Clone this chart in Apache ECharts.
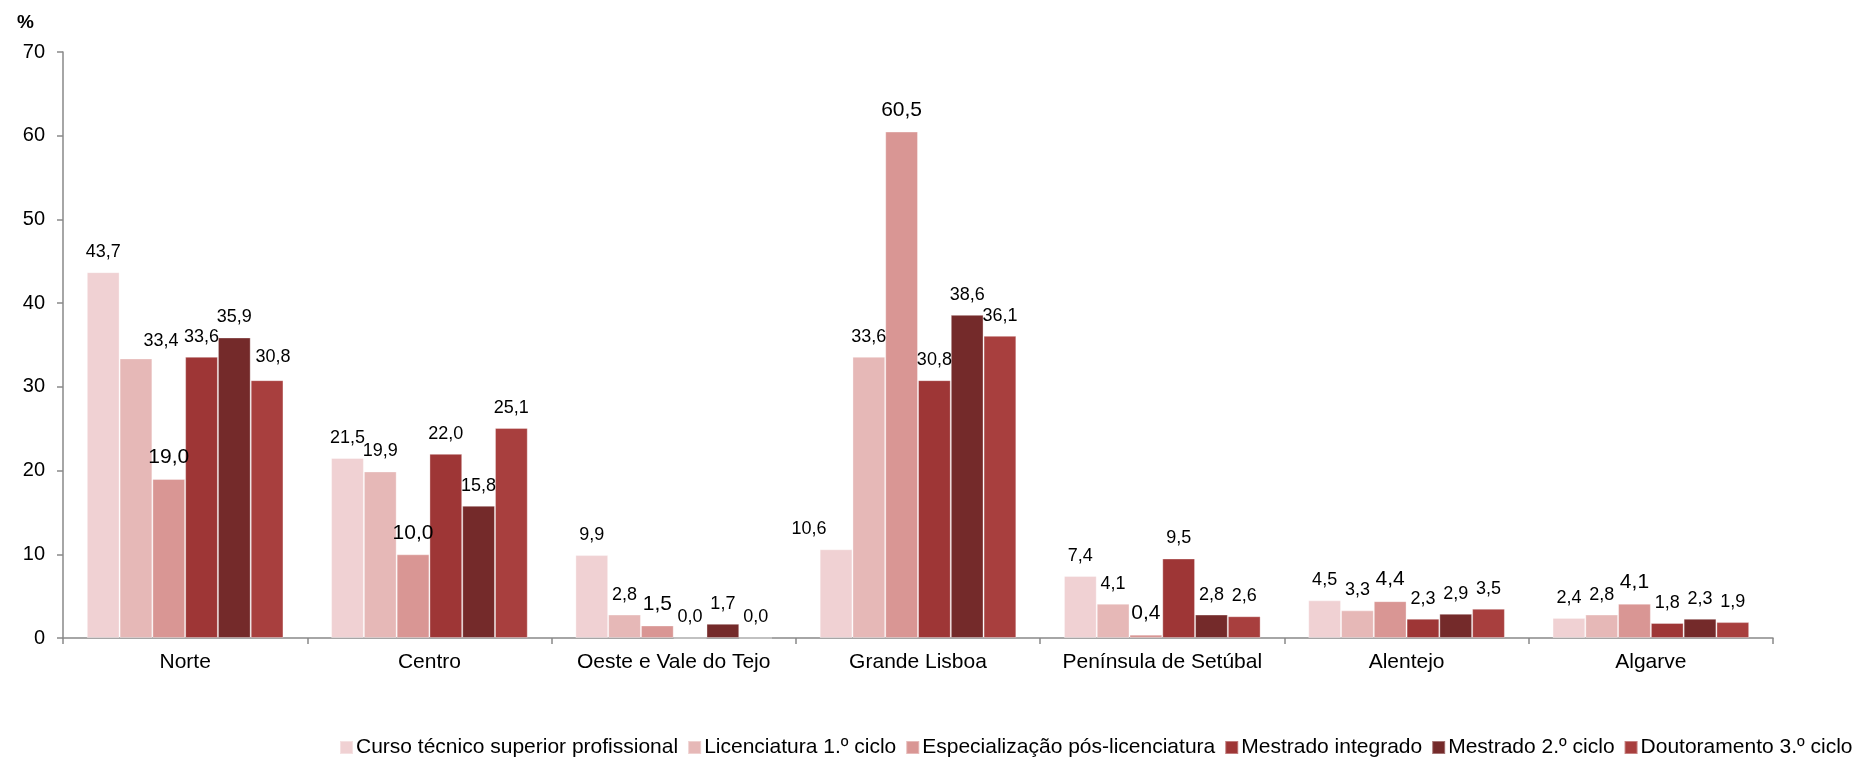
<!DOCTYPE html>
<html>
<head>
<meta charset="utf-8">
<script src="https://cdn.jsdelivr.net/npm/echarts@6/dist/echarts.min.js"></script>
<style>
html,body{margin:0;padding:0;background:#fff;}
#chart{width:1865px;height:757px;}
</style>
</head>
<body>
<div id="chart"></div>
<script>
const categories = ['Norte', 'Centro', 'Oeste e Vale do Tejo', 'Grande Lisboa', 'Península de Setúbal', 'Alentejo', 'Algarve'];
const seriesNames = ['Curso técnico superior profissional', 'Licenciatura 1.º ciclo', 'Especialização pós-licenciatura', 'Mestrado integrado', 'Mestrado 2.º ciclo', 'Doutoramento 3.º ciclo'];
const cursoTecnico = [43.7, 21.5, 9.9, 10.6, 7.4, 4.5, 2.4];
const licenciatura = [33.4, 19.9, 2.8, 33.6, 4.1, 3.3, 2.8];
const especializacao = [19.0, 10.0, 1.5, 60.5, 0.4, 4.4, 4.1];
const mestradoIntegrado = [33.6, 22.0, 0.0, 30.8, 9.5, 2.3, 1.8];
const mestrado2 = [35.9, 15.8, 1.7, 38.6, 2.8, 2.9, 2.3];
const doutoramento = [30.8, 25.1, 0.0, 36.1, 2.6, 3.5, 1.9];
const yTicks = [0, 10, 20, 30, 40, 50, 60, 70];

const values = [cursoTecnico, licenciatura, especializacao, mestradoIntegrado, mestrado2, doutoramento];
const colors = ['#F0D1D3', '#E6B8B7', '#D99694', '#9E3636', '#742A2A', '#A83F3E'];
const labelSizes = [18, 18, 21, 18, 18, 18];
// label nudges (series index, category index) -> [dx, dy], mimicking the original label placement
const labelNudges = { '1,0': [25, 3], '5,0': [6, -3], '0,3': [-27, 0] };

const FONT = 'Liberation Sans, Arial, sans-serif';
const chart = echarts.init(document.getElementById('chart'));
chart.setOption({
  animation: false,
  textStyle: { fontFamily: FONT },
  graphic: [{
    type: 'text', left: 17, top: 13,
    style: { text: '%', font: 'bold 19px ' + FONT, fill: '#000' }
  }],
  grid: { left: 63, right: 92, top: 52, bottom: 119, containLabel: false },
  legend: {
    bottom: -1, left: 339, right: 0, padding: 0,
    itemWidth: 13, itemHeight: 13, itemGap: 9,
    icon: 'rect',
    textStyle: { fontFamily: FONT, fontSize: 21, color: '#000', padding: [0, 0, 0, -2] },
    data: seriesNames
  },
  xAxis: {
    type: 'category',
    data: categories,
    axisLine: { lineStyle: { color: '#898989', width: 1.5 } },
    axisTick: { show: true, interval: 0, length: 6, lineStyle: { color: '#898989', width: 1.5 } },
    axisLabel: { color: '#000', fontSize: 21, margin: 14, interval: 0 }
  },
  yAxis: {
    type: 'value', min: yTicks[0], max: yTicks[yTicks.length - 1], interval: 10,
    axisLine: { show: true, lineStyle: { color: '#898989', width: 1.5 } },
    axisTick: { show: true, length: 6, lineStyle: { color: '#898989', width: 1.5 } },
    splitLine: { show: false },
    axisLabel: { color: '#000', fontSize: 20, margin: 18 }
  },
  series: seriesNames.map((name, i) => ({
    name: name,
    type: 'bar',
    data: values[i].map((v, j) => {
      const n = labelNudges[i + ',' + j];
      return n ? { value: v, label: { offset: n } } : v;
    }),
    barGap: '0%',
    barCategoryGap: '19.5%',
    itemStyle: { color: colors[i], borderColor: 'rgba(255,255,255,0.35)', borderWidth: 1 },
    label: {
      show: true, position: 'top', distance: 11,
      color: '#000', fontSize: labelSizes[i],
      formatter: p => p.value.toFixed(1).replace('.', ',')
    }
  }))
});
</script>
</body>
</html>
